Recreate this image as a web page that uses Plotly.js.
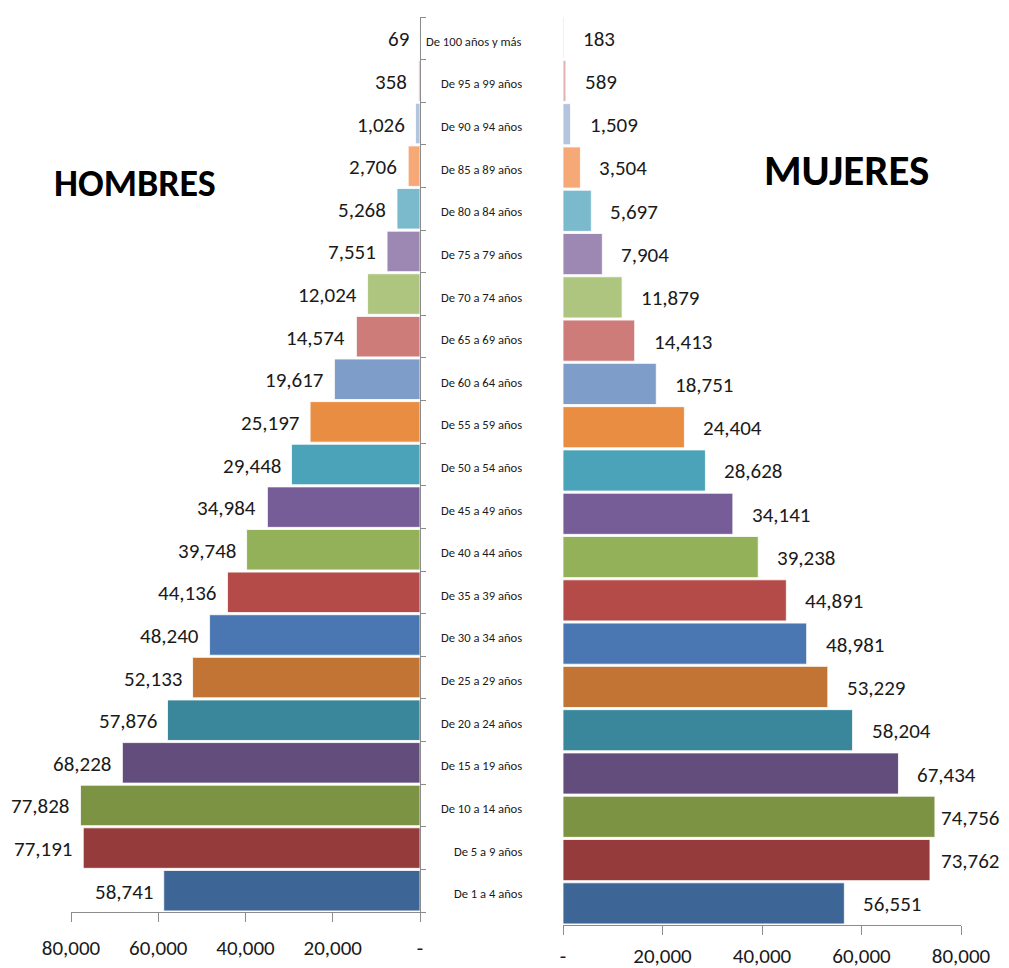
<!DOCTYPE html>
<html>
<head>
<meta charset="utf-8">
<script src="https://cdn.plot.ly/plotly-3.0.1.min.js"></script>
<style>html,body{margin:0;padding:0;background:#fff}#chart{width:1009px;height:968px}</style>
</head>
<body>
<div id="chart"></div>
<script>
// Categories (bottom to top)
const categories = ["De 1 a 4 años","De 5 a 9 años","De 10 a 14 años","De 15 a 19 años","De 20 a 24 años","De 25 a 29 años","De 30 a 34 años","De 35 a 39 años","De 40 a 44 años","De 45 a 49 años","De 50 a 54 años","De 55 a 59 años","De 60 a 64 años","De 65 a 69 años","De 70 a 74 años","De 75 a 79 años","De 80 a 84 años","De 85 a 89 años","De 90 a 94 años","De 95 a 99 años","De 100 años y más"];
const hombres = [58741,77191,77828,68228,57876,52133,48240,44136,39748,34984,29448,25197,19617,14574,12024,7551,5268,2706,1026,358,69];
const mujeres = [56551,73762,74756,67434,58204,53229,48981,44891,39238,34141,28628,24404,18751,14413,11879,7904,5697,3504,1509,589,183];
const colors = ["#3D6596","#953B3B","#7B9342","#634D7D","#3A869A","#C17434","#4A77B1","#B44B48","#93B158","#775D97","#4AA3B9","#E98D43","#7F9DC9","#CD7C7A","#AEC57F","#9C88B3","#7BBACD","#F6A977","#B3C4DF","#E0B5B5","#C3D69B"];
const leftTickVals = [80000,60000,40000,20000,0];
const leftTickText = ["80,000","60,000","40,000","20,000","-"];
const rightTickVals = [0,20000,40000,60000,80000];
const rightTickText = ["-","20,000","40,000","60,000","80,000"];

const FONT = 'Carlito, "Liberation Sans Narrow", "DejaVu Sans Condensed", "Arial Narrow", sans-serif';
const fmt = v => v.toLocaleString('en-US');

const W = 1009, H = 968;
const X2_LEFT = 563, X2_RIGHT = 961, X2_MAX = 80000;

const traces = [
  {type:'bar', orientation:'h', y:categories, x:hombres, xaxis:'x', yaxis:'y',
   marker:{color:colors, line:{color:'rgba(255,255,255,0.8)', width:1}}, hoverinfo:'x+y', showlegend:false},
  {type:'bar', orientation:'h', y:categories, x:mujeres, xaxis:'x2', yaxis:'y2',
   marker:{color:colors, line:{color:'rgba(255,255,255,0.8)', width:1}}, hoverinfo:'x+y', showlegend:false}
];

const annotations = [];
categories.forEach((c,i)=>{
  annotations.push({xref:'x', yref:'y', x:hombres[i], y:c, text:fmt(hombres[i]), showarrow:false,
    xanchor:'right', yanchor:'middle', xshift:-9, yshift:-1, font:{family:FONT, size:21, color:'#1a1a1a'}});
  // keep labels inside the picture: shrink the gap when a label would run off the right edge
  const barEndPx = X2_LEFT + mujeres[i] / X2_MAX * (X2_RIGHT - X2_LEFT);
  const shift = Math.min(17, 1003 - 64 - barEndPx);
  annotations.push({xref:'x2', yref:'y2', x:mujeres[i], y:c, text:fmt(mujeres[i]), showarrow:false,
    xanchor:'left', yanchor:'middle', xshift:shift, yshift:-1, font:{family:FONT, size:21, color:'#1a1a1a'}});
  annotations.push({xref:'paper', yref:'y', x:524/W, y:c, text:c, showarrow:false,
    xanchor:'right', yanchor:'middle', yshift:-3, font:{family:FONT, size:12.6, color:'#1a1a1a'}});
});
annotations.push({xref:'paper', yref:'paper', x:135/W, y:1-183/H, text:'<b>HOMBRES</b>', showarrow:false,
  xanchor:'center', yanchor:'middle', font:{family:FONT, size:38, color:'#000'}});
annotations.push({xref:'paper', yref:'paper', x:846/W, y:1-170/H, text:'<b>MUJERES</b>', showarrow:false,
  xanchor:'center', yanchor:'middle', font:{family:FONT, size:43, color:'#000'}});

const axisColor = '#8c8c8c';
const layout = {
  width:W, height:H,
  margin:{l:0, r:0, t:0, b:0},
  paper_bgcolor:'#fff', plot_bgcolor:'rgba(0,0,0,0)',
  bargap:0.05,
  showlegend:false,
  xaxis:{domain:[71/W, 420/W], range:[80000,0], anchor:'y', showgrid:false, zeroline:false,
    showline:true, linecolor:axisColor, linewidth:1, ticks:'outside', ticklen:9, tickcolor:axisColor,
    tickvals:leftTickVals, ticktext:leftTickText, ticklabelstandoff:8,
    tickfont:{family:FONT, size:21, color:'#1a1a1a'}, fixedrange:true},
  yaxis:{domain:[1-912/H, 1-17/H], type:'category', anchor:'x', side:'right', showgrid:false, zeroline:false,
    showline:true, linecolor:axisColor, linewidth:1, ticks:'outside', tickson:'boundaries', ticklen:5, tickcolor:axisColor,
    showticklabels:false, fixedrange:true},
  xaxis2:{domain:[X2_LEFT/W, X2_RIGHT/W], range:[0,X2_MAX], anchor:'y2', showgrid:false, zeroline:false,
    showline:true, linecolor:axisColor, linewidth:1, ticks:'outside', ticklen:9, tickcolor:axisColor,
    tickvals:rightTickVals, ticktext:rightTickText, ticklabelstandoff:3,
    tickfont:{family:FONT, size:21, color:'#1a1a1a'}, fixedrange:true},
  yaxis2:{domain:[1-925/H, 1-16/H], type:'category', anchor:'x2', showgrid:false, zeroline:false,
    showline:false, ticks:'', showticklabels:false, fixedrange:true},
  annotations:annotations
};

Plotly.newPlot('chart', traces, layout, {displayModeBar:false, staticPlot:true});
</script>
</body>
</html>
